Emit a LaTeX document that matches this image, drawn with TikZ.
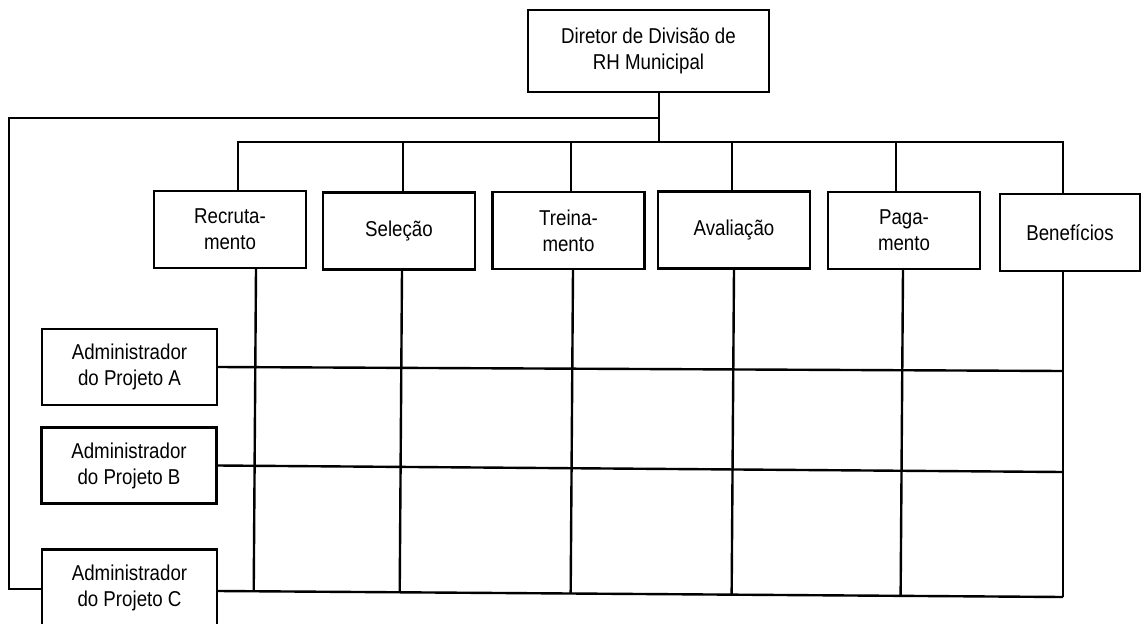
\documentclass[tikz,border=0pt]{standalone}
\usepackage{fontspec}
\setmainfont{Liberation Sans}[FakeStretch=0.87]
\usetikzlibrary{calc}

\begin{document}
\begin{tikzpicture}[x=1pt,y=1pt,line width=2.4pt,
        font=\fontsize{21.5}{26}\selectfont,
        every node/.style={draw,align=center,inner sep=0pt,minimum height=77pt},
        unit/.style={minimum width=152pt},
        proj/.style={minimum width=175pt,minimum height=76pt}]

    \useasboundingbox (0,0) rectangle (1141,-624);

    \node[minimum width=241pt,minimum height=82pt] (dir) at (648.5,-51) {Diretor de Divisão de\\RH Municipal};

    \node[unit] (rec) at (230,-229.5) {Recruta-\\mento};
    \node[unit] (sel) at (399,-231) {Seleção};
    \node[unit] (tre) at (568.5,-230.5) {Treina-\\mento};
    \node[unit] (ava) at (734,-230) {Avaliação};
    \node[unit] (pag) at (904,-230.5) {Paga-\\mento};
    \node[minimum width=140pt] (ben) at (1070,-232.5) {Benefícios};

    \node[proj] (pa) at (129.5,-367) {Administrador\\do Projeto A};
    \node[proj] (pb) at (129,-465.5) {Administrador\\do Projeto B};
    \node[proj] (pc) at (129.5,-587.5) {Administrador\\do Projeto C};

    \coordinate (bus) at (659,-142);
    \coordinate (side) at (9,-118);
    \coordinate (aR) at (1063,-371);
    \coordinate (bR) at (1063,-472);
    \coordinate (cR) at (1063,-597);
    \coordinate (cL) at ([yshift=-3.5pt]pc.east);

    % director down to the units
    \draw (dir.south -| bus) -- (bus);
    \foreach \u/\dx in {rec/8,sel/4,tre/2.5,ava/-2,pag/-8,ben/-7}
        \draw ([xshift=\dx pt]\u.north) |- (bus);

    % direct line to project C
    \draw ([yshift=-1.5pt]pc.west) -| (side) -- (side -| bus);

    % matrix
    \draw (pa.east) -- (aR);
    \draw (pb.east) -- (bR);
    \draw (cL) -- (cR);
    \foreach \u/\dx in {rec/26,sel/3,tre/4.5,ava/0,pag/-1}
        \draw ([xshift=\dx pt]\u.south) -- ($(cL)!([xshift=\dx pt]\u.south)!(cR)$);
    \draw (cR |- ben.south) -- (cR);
\end{tikzpicture}
\end{document}
